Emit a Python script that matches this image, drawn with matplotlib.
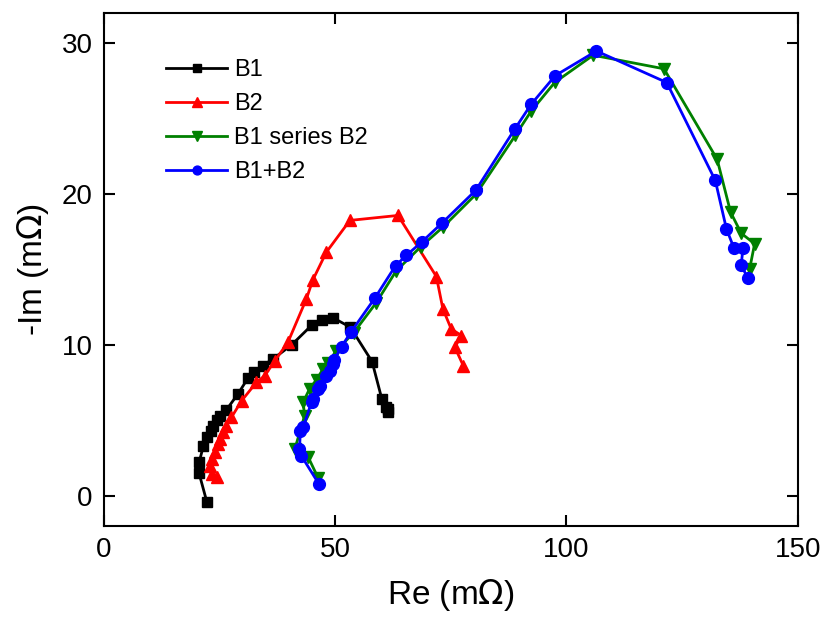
import matplotlib
matplotlib.use("Agg")
import matplotlib.pyplot as plt

plt.rcParams['font.family'] = ['Liberation Sans', 'DejaVu Sans']

# B1 (black squares)
b1_re = [22.3, 20.6, 20.6, 21.5, 22.2, 23.1, 23.6, 24.4, 25.2, 26.5, 29.0, 31.2, 32.4,
         34.4, 36.6, 40.6, 45.1, 47.1, 49.6, 53.3, 58.0, 60.1, 61.1, 61.5, 61.4]
b1_im = [-0.44, 1.48, 2.21, 3.27, 3.87, 4.31, 4.64, 5.02, 5.31, 5.69, 6.75, 7.81, 8.18,
         8.63, 9.07, 10.0, 11.35, 11.66, 11.79, 11.17, 8.89, 6.42, 5.86, 5.75, 5.53]

# B2 (red up triangles)
b2_re = [24.4, 23.3, 22.9, 23.3, 24.0, 24.7, 25.1, 25.8, 26.5, 27.6, 29.8, 33.0, 34.8,
         37.0, 39.8, 43.8, 45.2, 48.1, 53.2, 63.6, 71.9, 73.3, 75.1, 77.3, 75.9, 77.7]
b2_im = [1.21, 1.44, 1.99, 2.44, 2.87, 3.43, 3.76, 4.20, 4.65, 5.20, 6.30, 7.52, 7.96,
         8.96, 10.17, 13.05, 14.31, 16.14, 18.25, 18.58, 14.53, 12.39, 11.06, 10.62, 9.84, 8.63]

# B1 series B2 (green down triangles)
bs_re = [46.3, 44.2, 41.3, 43.4, 43.1, 44.5, 46.0, 47.4, 48.5, 50.2, 54.0, 58.9, 63.2,
         68.5, 73.3, 80.5, 89.0, 92.4, 97.5, 105.8, 121.1, 132.6, 135.5, 137.8, 140.7, 139.6]
bs_im = [1.2, 2.55, 3.1, 5.3, 6.2, 7.1, 7.7, 8.4, 8.8, 9.6, 10.8, 12.8, 14.9,
         16.5, 17.8, 20.0, 23.9, 25.5, 27.4, 29.2, 28.3, 22.3, 18.8, 17.4, 16.7, 15.0]

# B1+B2 (blue circles)
bp_re = [46.5, 42.7, 42.3, 42.5, 43.1, 44.9, 45.3, 46.3, 46.7, 48.1, 48.8, 49.5, 49.8,
         51.4, 53.5, 58.6, 63.1, 65.4, 68.7, 73.2, 80.4, 88.9, 92.4, 97.6, 106.5, 121.7,
         132.2, 134.6, 136.2, 138.2, 137.8, 139.2]
bp_im = [0.78, 2.65, 3.1, 4.3, 4.55, 6.2, 6.4, 7.05, 7.3, 7.96, 8.3, 8.73, 9.0,
         9.89, 10.88, 13.1, 15.26, 15.93, 16.81, 18.1, 20.24, 24.33, 25.95, 27.85, 29.48, 27.39,
         20.9, 17.7, 16.44, 16.44, 15.31, 14.42]

fig = plt.figure(figsize=(8.24, 6.18), dpi=100)
ax = fig.add_axes([0.126, 0.149, 0.842, 0.830])

ax.plot(b1_re, b1_im, color='black', marker='s', ms=7.5, lw=2, label='B1')
ax.plot(b2_re, b2_im, color='#ff0000', marker='^', ms=9, lw=2, label='B2')
ax.plot(bs_re, bs_im, color='#008000', marker='v', ms=9, lw=2, label='B1 series B2')
ax.plot(bp_re, bp_im, color='#0000ff', marker='o', ms=8.5, lw=2, label='B1+B2')

ax.set_xlim(0, 150)
ax.set_ylim(-2, 32)
ax.set_xticks([0, 50, 100, 150])
ax.set_yticks([0, 10, 20, 30])
ax.tick_params(direction='in', length=8, width=1.5, labelsize=20, top=True, right=True, pad=8)
for s in ax.spines.values():
    s.set_linewidth(1.5)

ax.set_xlabel('Re (m$\\Omega$)', fontsize=24, labelpad=10)
ax.set_ylabel('-Im (m$\\Omega$)', fontsize=24, labelpad=8)

ax.legend(loc='upper left', bbox_to_anchor=(0.059, 0.951), frameon=False, fontsize=17,
          markerscale=0.75, handlelength=2.6, handletextpad=0.3, labelspacing=0.5)

fig.savefig('out.png', dpi=100)
